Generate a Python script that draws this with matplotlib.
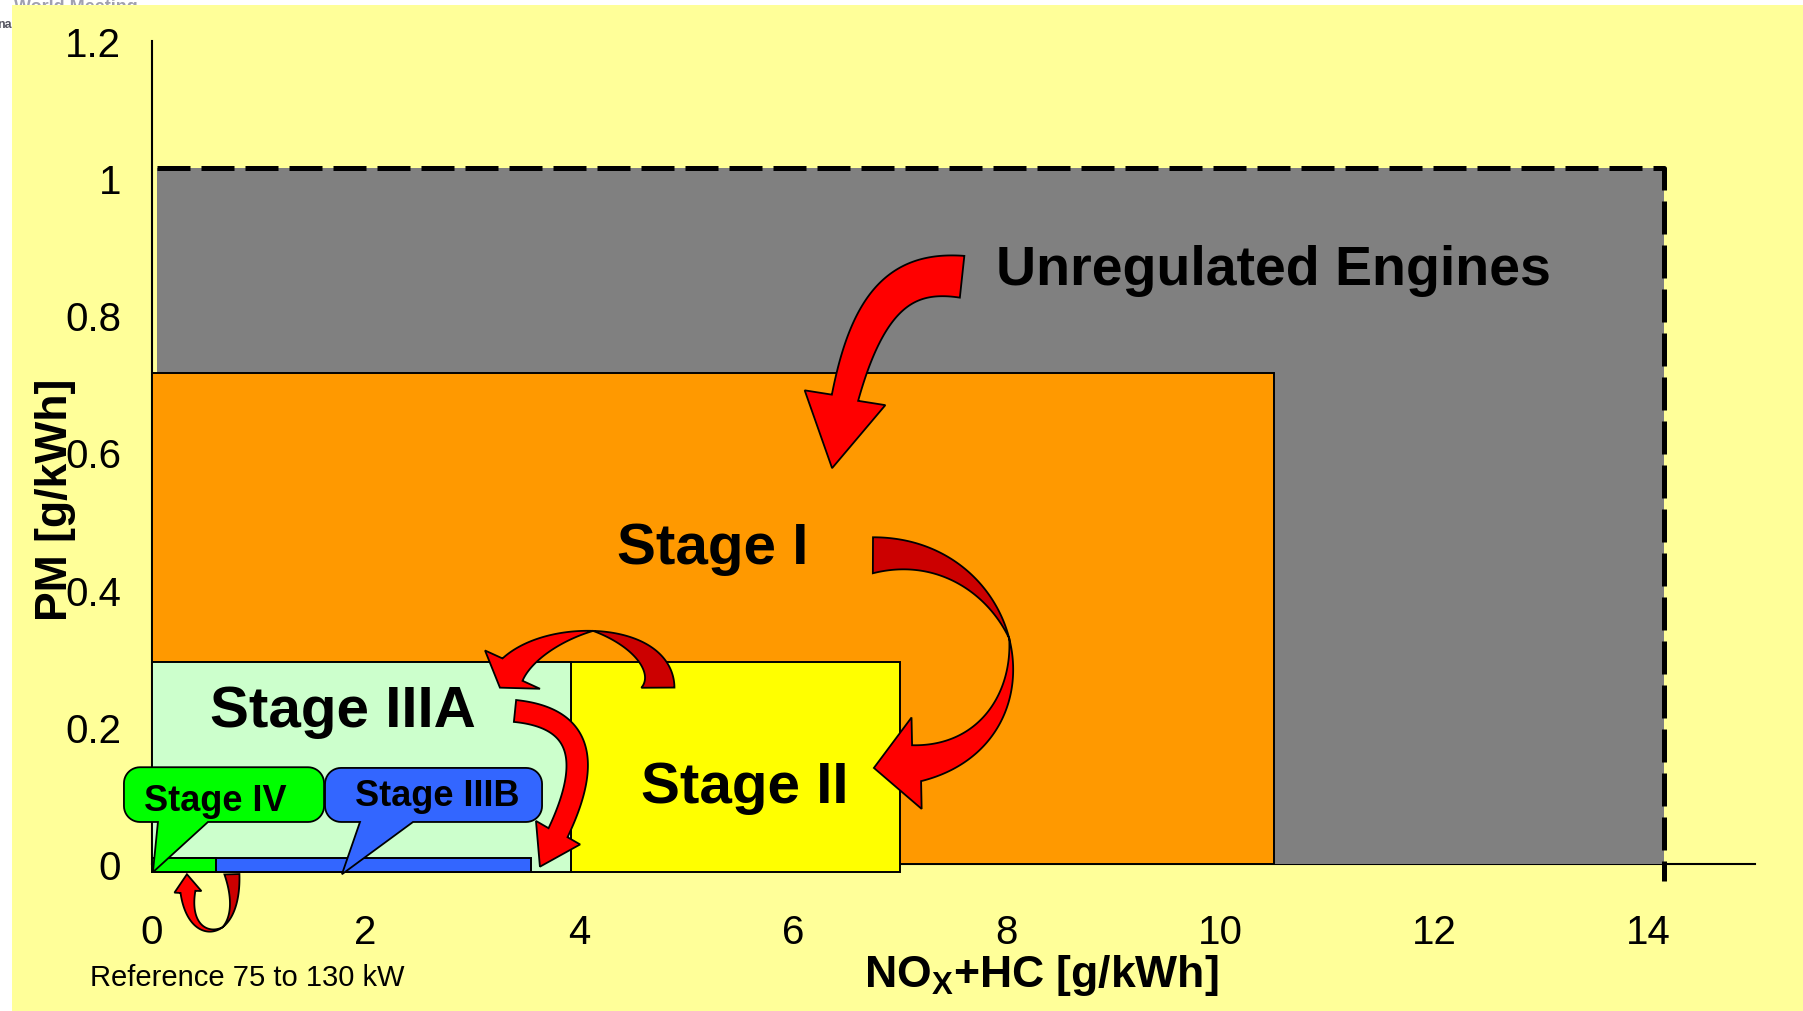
import numpy as np
import matplotlib
matplotlib.use("Agg")
import matplotlib.pyplot as plt
from matplotlib.patches import Rectangle, Polygon

plt.rcParams['font.family'] = ['Liberation Sans', 'DejaVu Sans']
plt.rcParams['mathtext.fontset'] = 'custom'
plt.rcParams['mathtext.rm'] = 'Liberation Sans'
plt.rcParams['mathtext.bf'] = 'Liberation Sans:bold'

# EU non-road emission limits, 75 to 130 kW class
stages = ['Unregulated Engines', 'Stage I', 'Stage II', 'Stage IIIA',
          'Stage IIIB', 'Stage IV']
nox_hc = [14.15, 10.5, 7.0, 3.92, 3.55, 0.6]      # g/kWh
pm = [1.015, 0.715, 0.294, 0.294, 0.009, 0.009]   # g/kWh

xticks = [0, 2, 4, 6, 8, 10, 12, 14]
yticks = [0, 0.2, 0.4, 0.6, 0.8, 1.0, 1.2]
ytick_labels = ['0', '0.2', '0.4', '0.6', '0.8', '1', '1.2']

stage_colors = ['#808080', '#FF9900', '#FFFF00', '#CCFFCC', '#3366FF', '#00FF00']
box_x0 = [0.05, 0, 0, 0, 0, 0]
box_y0 = [0, 0, -0.012, -0.012, -0.012, -0.012]

RED = '#FF0000'
DARK_RED = '#CC0000'
BG = '#FFFF99'


def bezier(p, n=400):
    t = np.linspace(0, 1, n)[:, None]
    return ((1 - t)**3 * p[0] + 3 * (1 - t)**2 * t * p[1]
            + 3 * (1 - t) * t**2 * p[2] + t**3 * p[3])


def normals(c):
    d = np.gradient(c, axis=0)
    d /= np.hypot(d[:, 0], d[:, 1])[:, None]
    return np.c_[-d[:, 1], d[:, 0]]


def curved_arrow(ax, ctrl, w0, w1, head_w, head_len, twist=None, z=10):
    """
    Ribbon arrow along a cubic bezier (control points in data coords).
    Widths are in pixels at 100 dpi. twist = fraction where the dark back
    face turns into the red front face.
    """
    px = ax.figure.dpi / 100.
    w0, w1, head_w, head_len = w0 * px, w1 * px, head_w * px, head_len * px
    to_px = ax.transData.transform
    to_data = ax.transData.inverted().transform
    c = bezier(to_px(np.asarray(ctrl, float)))
    tip = c[-1]
    k = np.nonzero(np.hypot(*(c - tip).T) <= head_len)[0][0]
    c = c[:k + 1]
    base = c[-1]
    n = normals(c)
    s = np.r_[0, np.cumsum(np.hypot(*np.diff(c, axis=0).T))]
    s /= s[-1]
    W = w0 + (w1 - w0) * s
    u = (tip - base) / np.hypot(*(tip - base))
    nh = np.array([-u[1], u[0]])
    if twist is None:
        side = 1.
        outer = c + n * W[:, None] / 2
        inner = c - n * W[:, None] / 2
        m = 0
    else:
        m = np.searchsorted(s, twist)
        side = np.sign(np.dot(n[m], c[m] - c.mean(axis=0)))
        w = np.where(s < twist, W * (1 - s / twist),
                     W * (s - twist) / (1 - twist))
        outer = c + side * n * W[:, None] / 2
        inner = outer - side * n * w[:, None]
        dark = np.r_[outer[:m + 1], inner[:m + 1][::-1]]
        ax.add_patch(Polygon(to_data(dark), closed=True, facecolor=DARK_RED,
                             edgecolor='black', lw=1.3, zorder=z,
                             clip_on=False))
    head = [base + side * nh * head_w / 2, tip, base - side * nh * head_w / 2]
    red = np.r_[outer[m:], head, inner[m:][::-1]]
    ax.add_patch(Polygon(to_data(red), closed=True, facecolor=RED,
                         edgecolor='black', lw=1.3, zorder=z + 0.1,
                         clip_on=False))


def callout(ax, box, base, tip, color, z, r=16):
    """Rounded speech bubble; box=(x0, y0, x1, y1), pointer on bottom edge"""
    to_px = ax.transData.transform
    (x0, y0), (x1, y1) = to_px([(box[0], box[1]), (box[2], box[3])])
    xa = to_px([(base[0], box[1])])[0, 0]
    xb = to_px([(base[1], box[1])])[0, 0]
    tp = to_px([tip])[0]

    def arc(cx, cy, a0, a1):
        a = np.radians(np.linspace(a0, a1, 12))
        return np.c_[cx + r * np.cos(a), cy + r * np.sin(a)]

    pts = np.r_[[(x0 + r, y0), (xa, y0), tp, (xb, y0)],
                arc(x1 - r, y0 + r, -90, 0), arc(x1 - r, y1 - r, 0, 90),
                arc(x0 + r, y1 - r, 90, 180), arc(x0 + r, y0 + r, 180, 270)]
    ax.add_patch(Polygon(ax.transData.inverted().transform(pts), closed=True,
                         facecolor=color, edgecolor='black', lw=1.3,
                         zorder=z, clip_on=False))


fig = plt.figure(figsize=(18.03, 10.12), dpi=100, facecolor='white')

# bits of the slide header peeking out above the yellow panel
fig.text(14 / 1803., 1 - 12 / 1012., 'World Meeting', color='#a0a0b0',
         fontsize=13, fontweight='bold', va='baseline', zorder=0)
fig.text(12 / 1803., 1 - 28 / 1012., 'na', color='#555560', fontsize=9,
         fontweight='bold', ha='right', va='baseline', zorder=0)
fig.add_artist(Rectangle((12 / 1803., 0), 1, 1 - 6 / 1012.,
                         transform=fig.transFigure, facecolor=BG,
                         edgecolor='none', zorder=0.5))

ax = fig.add_axes([0.0841, 0.1453, 0.8894, 0.8134])
ax.set_facecolor('none')
ax.set_zorder(1)
ax.set_xlim(0, 15)
ax.set_ylim(0, 1.2)
for side in ['top', 'right']:
    ax.spines[side].set_visible(False)
ax.spines['left'].set_linewidth(1.5)
ax.spines['bottom'].set_linewidth(1.5)
ax.set_xticks(xticks, [str(v) for v in xticks])
ax.set_yticks(yticks, ytick_labels)
ax.tick_params(length=0, labelsize=29)
ax.tick_params(axis='x', pad=35)
ax.tick_params(axis='y', pad=22)

# limit boxes
for i, (x, y, col) in enumerate(zip(nox_hc, pm, stage_colors)):
    ax.add_patch(Rectangle((box_x0[i], box_y0[i]), x - box_x0[i],
                           y - box_y0[i], facecolor=col,
                           edgecolor='none' if i == 0 else 'black',
                           lw=1.4, zorder=3 + i, clip_on=False))
ax.plot([box_x0[0], nox_hc[0], nox_hc[0]], [pm[0], pm[0], -0.025],
        color='black', lw=3.6, linestyle=(0, (6.6, 2.2)),
        dash_capstyle='butt', clip_on=False, zorder=3.5)

# big stage labels
label_xy = [(7.90, 0.845), (5.25, 0.439), (5.55, 0.091), (1.79, 0.201)]
label_ha = ['left', 'center', 'center', 'center']
label_size = [40, 42, 42, 42]
for name, (lx, ly), ha, fs in zip(stages[:4], label_xy, label_ha, label_size):
    ax.text(lx, ly, name, ha=ha, va='baseline', fontsize=fs,
            fontweight='bold', zorder=9)

# arrows between stages
curved_arrow(ax, [(7.581, 0.856), (6.935, 0.867), (6.580, 0.809),
                  (6.365, 0.577)], 42, 27, 82, 72)
curved_arrow(ax, [(6.747, 0.450), (8.123, 0.450), (8.403, 0.139),
                  (6.756, 0.140)], 36, 37, 92, 44, twist=0.5)
curved_arrow(ax, [(4.736, 0.257), (4.736, 0.337), (3.445, 0.337),
                  (3.258, 0.257)], 33, 30, 67, 22, twist=0.5)
curved_arrow(ax, [(3.399, 0.223), (4.166, 0.211), (4.100, 0.121),
                  (3.632, -0.004)], 22, 21, 50, 39)
curved_arrow(ax, [(0.751, -0.015), (0.770, -0.112), (0.321, -0.112),
                  (0.330, -0.015)], 15, 15, 27, 18, twist=0.5)

# callouts for the small stages
callout(ax, (-0.259, 0.0612, 1.613, 0.141), (0.059, 0.527), (0.012, -0.012),
        stage_colors[5], 12)
callout(ax, (1.622, 0.0612, 3.652, 0.140), (1.949, 2.445), (1.780, -0.015),
        stage_colors[4], 13)
ax.text(0.592, 0.079, stages[5], ha='center', va='baseline', fontsize=26,
        fontweight='bold', zorder=14)
ax.text(2.669, 0.086, stages[4], ha='center', va='baseline', fontsize=26,
        fontweight='bold', zorder=14)

ax.set_ylabel('PM [g/kWh]', fontsize=32, fontweight='bold')
ax.yaxis.label.set_va('baseline')
ax.yaxis.set_label_coords(-0.0528, 0.4434)
ax.set_xlabel(r'NO$_{\mathbf{X}}$+HC [g/kWh]', fontsize=32, fontweight='bold')
ax.xaxis.label.set_va('baseline')
ax.xaxis.set_label_coords(0.555, -0.1482)

fig.text(90 / 1803., 26 / 1012., 'Reference 75 to 130 kW', fontsize=21,
         va='baseline', zorder=3)

fig.savefig('out.png', dpi=100, facecolor=fig.get_facecolor())
